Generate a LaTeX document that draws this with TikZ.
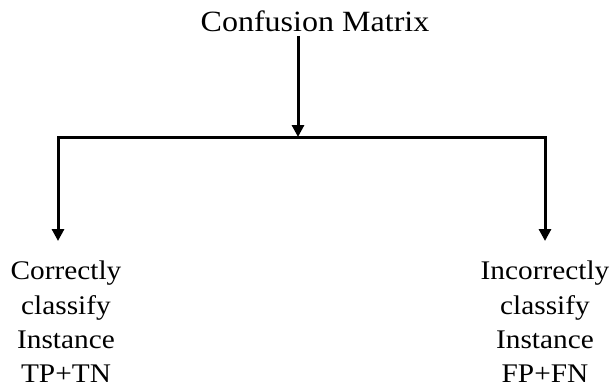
\documentclass[tikz,border=0pt]{standalone}
\usepackage{fontspec}
\setmainfont{Liberation Serif}[FakeStretch=1.09]
\usetikzlibrary{arrows.meta}
\tikzset{
  headlbl/.style={
    inner sep=0pt, font=\fontsize{29.5}{35}\selectfont, anchor=base
  },
  leaflbl/.style={
    inner sep=0pt, align=center, anchor=north,
    font=\fontsize{27}{34.5}\selectfont
  },
  arr/.style={-{Triangle[width=12bp,length=12bp]}, line width=3bp, black},
  twoarr/.style={{Triangle[width=12bp,length=12bp]}-{Triangle[width=12bp,length=12bp]},
    line width=3bp, black, line join=miter}
}

\begin{document}
\begin{tikzpicture}[x=1bp, y=-1bp]
\useasboundingbox (0,0) rectangle (616,389);

% ── Title ─────────────────────────────────────────────────────────
\node[headlbl] (top) at (315, 31) {Confusion Matrix};

% ── Leaves ────────────────────────────────────────────────────────
\node[leaflbl] (left)  at (66, 261)
  {Correctly\\classify\\Instance\\TP+TN};
\node[leaflbl] (right) at (545, 261)
  {Incorrectly\\classify\\Instance\\FP+FN};

% ── Branch points ─────────────────────────────────────────────────
\coordinate (split) at (298, 137);
\coordinate (lt)    at (58, 137);
\coordinate (rt)    at (545, 137);
\coordinate (ltip)  at (58, 241);
\coordinate (rtip)  at (545, 241);

% ── Arrows ────────────────────────────────────────────────────────
\draw[arr] ([yshift=-5]split |- top.base) -- (split);
\draw[twoarr] (ltip) -- (lt) -- (rt) -- (rtip);

\end{tikzpicture}
\end{document}
